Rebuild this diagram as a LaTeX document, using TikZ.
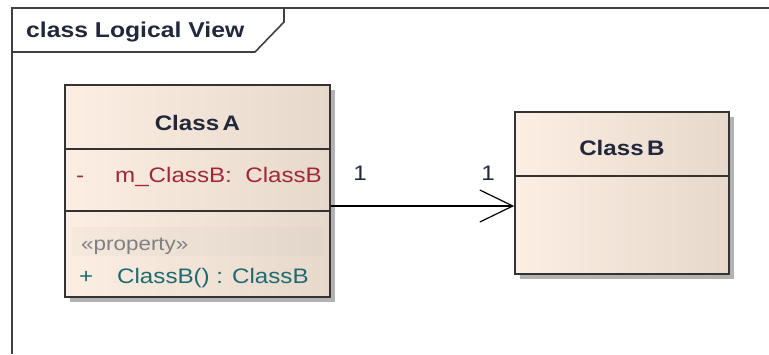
\documentclass[tikz,border=0pt]{standalone}
\usepackage{fontspec}
\setmainfont{Liberation Sans}[FakeStretch=1.15]
\usetikzlibrary{positioning,shadows,arrows.meta}
\definecolor{boxleft}{HTML}{FCEEE2}
\definecolor{boxright}{HTML}{E6D8CB}
\definecolor{attrred}{HTML}{A02838}
\definecolor{opteal}{HTML}{1E6A70}
\definecolor{inkdark}{HTML}{22283A}

\begin{document}
\begin{tikzpicture}
    [x=1pt,y=-1pt,
     classbox/.style={draw=black!80, line width=1.6pt, left color=boxleft, right color=boxright, inner sep=0pt,
       drop shadow={shadow xshift=5pt, shadow yshift=-5pt, fill=black!30, opacity=1}},
     txt/.style={inner sep=0pt, anchor=base west, font=\fontsize{21}{24}\selectfont},
     cname/.style={inner sep=0pt, anchor=base, text=inkdark, font=\fontsize{21}{24}\selectfont\bfseries},
     mult/.style={inner sep=0pt, anchor=base, text=inkdark, font=\fontsize{21}{24}\selectfont}]
  \useasboundingbox (0,0) rectangle (769,354);

  % frame and its tab
  \draw[line width=1.8pt, black!75] (12,354) -- (12,8) -- (769,8);
  \draw[line width=1.6pt, black!75] (12,52) -- (255,52) -- (284,22) -- (284,8);
  \node[cname, anchor=base west, font=\fontsize{21.5}{24}\selectfont\bfseries] (title) at (26,37) {class Logical View};

  % classes
  \node[classbox, minimum width=265pt, minimum height=212pt] (classA) at (197.5,191) {};
  \node[classbox, minimum width=214pt, minimum height=162pt] (classB) at (622,193) {};

  \draw[line width=1.6pt, black!80] ([yshift=-65pt]classA.north west) -- ([yshift=-65pt]classA.north east);
  \draw[line width=1.6pt, black!80] ([yshift=87pt]classA.south west) -- ([yshift=87pt]classA.south east);
  \draw[line width=1.6pt, black!80] ([yshift=-65pt]classB.north west) -- ([yshift=-65pt]classB.north east);
  \fill[black!30, opacity=0.08] (72,227) rectangle (323,256);

  \node[cname] (nameA) at (197.5,130) {Class\,A};
  \node[cname] (nameB) at (622,155) {Class\,B};

  \node[txt, text=attrred] (visA) at (76,182) {-};
  \node[txt, text=attrred] (attrA) at (115,182) {m\_ClassB:\ \ ClassB};
  \node[txt, text=black!50, font=\fontsize{19.5}{24}\selectfont] (stereoA) at (81,250) {«property»};
  \node[txt, text=opteal] (visOp) at (79,283) {+};
  \node[txt, text=opteal] (opA) at (117,283) {ClassB() : ClassB};

  % association
  \draw[line width=1.2pt, -{Straight Barb[length=33pt, width=32pt, line width=1.2pt]}]
    ([yshift=-13pt]classA.east |- classB.west) -- ([yshift=-13pt]classB.west);
  \node[mult] (multA) at (360,180) {1};
  \node[mult] (multB) at (488,180) {1};
\end{tikzpicture}
\end{document}
